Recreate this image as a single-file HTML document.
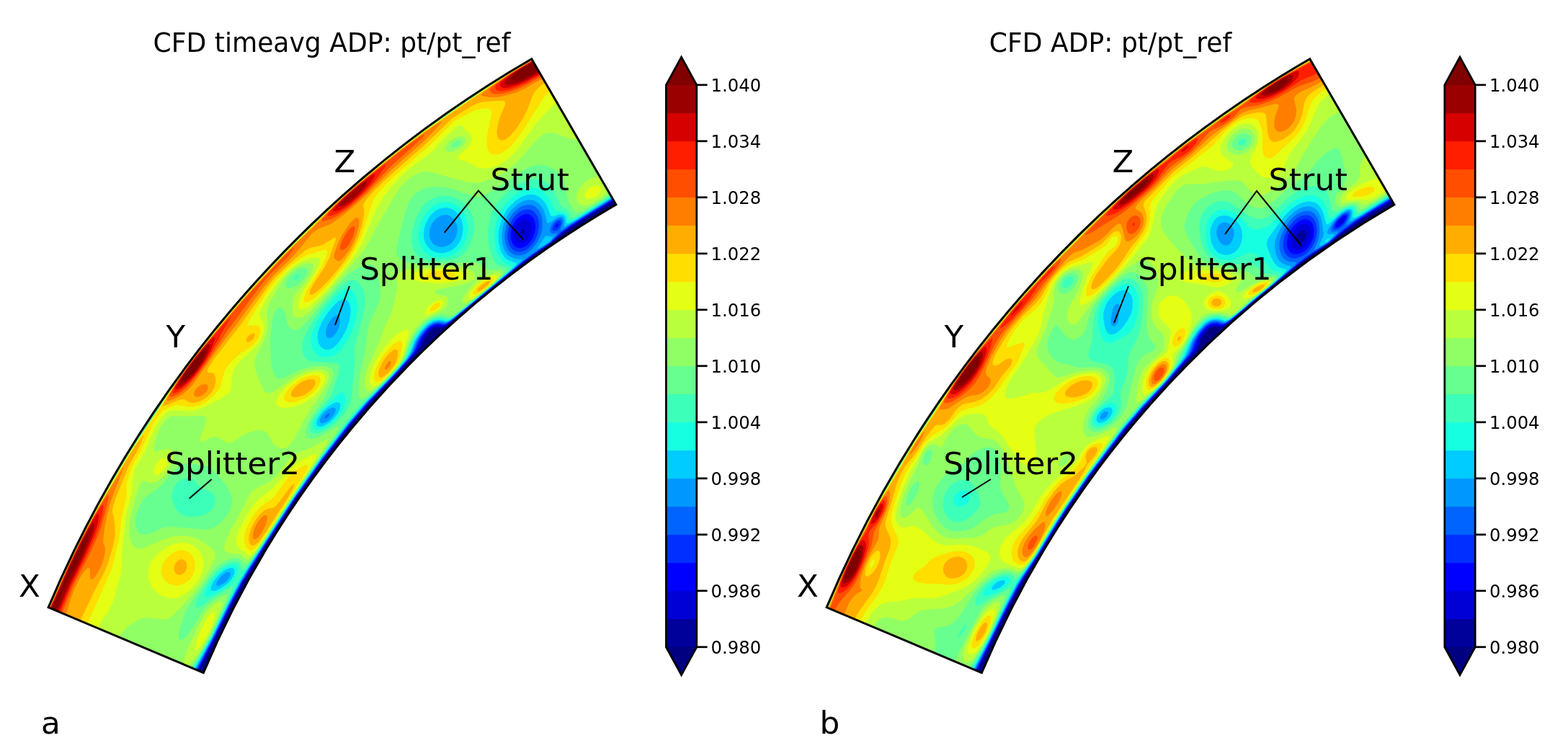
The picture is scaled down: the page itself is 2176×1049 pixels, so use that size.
<!DOCTYPE html>
<html lang="en"><head><meta charset="utf-8"><title>CFD ADP: pt/pt_ref</title>
<style>html,body{margin:0;padding:0;background:#fff;overflow:hidden}svg{display:block}text{font-family:"DejaVu Sans","Liberation Sans",sans-serif;fill:#000}.tk{font-size:24.30px}.ti{font-size:37.70px}.lb{font-size:42.50px}.cap{font-size:43.5px}.an{stroke:#000;stroke-width:2.00;fill:none}</style></head><body>
<svg width="2176" height="1049" viewBox="0 0 2176 1049">
<rect width="2176" height="1049" fill="#fff"/>
<g id="plota">
<path d="M67.12,842.80 A1595.60,1595.60 0 0 1 737.77,81.69 L854.85,283.83 A1362.00,1362.00 0 0 0 282.38,933.51 Z" fill="#000080"/>
<g transform="scale(0.1)" fill-rule="evenodd">
<path fill="#00009b" d="M671 8428l2095 883 229-458 213-446 183-346 273-452 460-715 346-485 364-472 297-350 319-332 347-374 52-69 53-118 50-72 36-37 29-19 37-10 72 3 35-13 29-18 456-383 448-365 228-179 321-223 131-110 150-113 595-367-1141-1971-460 277-451 292-456 319-430 322-418 337-422 364-394 365-396 392-382 405-354 403-353 431-326 427-323 454-296 448-291 475-265 467-186 352-177 356-168 360z"/>
<path fill="#0000d6" d="M2756 9307l232-457 214-446 175-331 273-452 460-716 375-527 409-524 233-271 377-394 274-304 48-70 52-121 58-82 39-40 45-28 42-9 85 4 66-36 405-339 581-472 190-144 252-173 143-123 137-103 594-368-1137-1964-460 277-451 292-456 319-430 322-418 337-422 364-394 365-396 392-382 405-354 403-353 431-326 427-323 454-296 448-291 475-265 467-186 352-177 356-168 360-159 365zM7241 3254l-14-15 1-33 10-17 13-11 24 3 7 20-6 28-17 20z"/>
<path fill="#0000ff" d="M2747 9303l234-457 222-460 168-317 274-451 451-702 385-542 397-511 233-272 400-418 239-268 48-73 67-151 64-83 49-48 47-25 42-7 80 7 32-10 44-26 1000-821 163-123 253-173 129-114 149-115 595-369-1134-1957-460 277-451 292-456 319-430 322-418 337-422 364-394 365-396 392-382 405-354 403-353 431-326 427-323 454-296 448-281 457-265 467-187 352-186 374-168 360-159 365zM7188 3366l-29-28-22-59-1-51 17-66 40-66 40-34 54-16 32 6 32 26 23 58 0 64-19 65-32 53-48 43-26 11-28 3z"/>
<path fill="#0030ff" d="M2739 9299l235-456 231-475 160-302 258-422 469-731 374-528 397-513 232-272 413-431 214-244 49-72 65-153 72-100 61-60 46-26 59-13 89 9 26-9 45-26 1013-831 150-113 240-162 126-118 150-114 595-369-1130-1951-460 277-451 292-456 319-430 322-418 337-422 364-394 365-396 392-368 390-355 403-354 430-327 427-312 437-297 447-292 474-266 467-196 369-177 356-177 378-159 365zM7121 3391l-26-56-8-44-1-42 12-74 31-77 44-61 62-48 62-19 31 3 24 8 34 25 23 32 15 39 7 43 0 49-10 56-34 85-30 47-36 38-43 29-33 13-41 3-25-5-30-15zM7708 3150l9-30 24-16 10 17-5 11-11 15-16 7z"/>
<path fill="#0064ff" d="M2730 9295l238-455 246-506 145-271 250-407 479-746 384-542 386-500 233-272 390-406 203-230 68-101 45-115 28-54 73-99 62-61 62-34 61-10 65 11 31-1 65-35 1027-843 137-101 226-152 150-144 124-91 596-369-1126-1944-460 277-451 292-456 319-430 322-418 337-422 364-394 365-396 392-368 390-355 403-354 430-327 427-312 437-297 447-292 474-266 467-196 369-177 356-177 378-159 365zM7091 3437l-21-34-14-39-10-52-2-61 17-97 41-95 31-47 37-40 74-50 35-13 43-5 30 4 44 18 30 28 32 51 18 60 4 46-2 57-15 70-22 59-27 52-42 57-38 37-43 29-50 19-39 4-44-7-39-22zM7673 3197l-7-19 4-27 20-41 37-37 16-8 25-3 15 14 3 22-6 28-17 32-23 27-30 18-19 2z"/>
<path fill="#0098ff" d="M2720 9291l241-454 216-445 183-348 88-146 403-634 224-342 392-558 386-500 233-272 368-380 207-235 65-95 48-123 33-65 39-59 44-54 61-60 63-37 35-10 39-3 88 14 35-11 44-27 1051-867 97-70 228-149 67-72 34-47-4-9-48 8-29-5-14-14-7-20 8-46 17-36 21-30 39-36 30-17 33-6 20 11 9 18-1 49-29 79 4 9 52-26 70-49 596-368-1121-1937-460 277-451 292-456 319-430 322-418 337-407 351-395 364-396 391-369 391-368 417-342 415-327 426-312 436-298 447-283 457-276 483-197 369-186 374-177 378-159 365zM7093 3511l-29-29-31-51-20-60-7-45-2-70 6-57 15-64 22-60 28-53 44-61 51-52 43-31 49-24 44-12 55 0 37 10 38 23 42 44 28 54 17 61 6 68-4 73-13 60-26 66-36 68-42 59-49 50-56 39-49 20-58 9-47-7zM4530 5802l-23-3 12-31 41-34 18 9-19 35z"/>
<path fill="#00ccff" d="M2710 9287l244-453 170-354 139-275 142-253 525-820 227-340 316-445 342-448 265-312 347-354 193-216 44-57 45-72 52-136 36-69 61-85 71-76 57-40 51-20 64-6 91 15 62-29 158-125 556-460 164-138 116-112 1-13-69 1-54-10-59-30-30-28-33-50-23-57-10-43-8-119 19-122 46-119 40-66 35-44 80-72 79-44 74-18 69 8 39 16 34 25 51 63 32 74 29 125 12 17 31-13 98-71 54-14 24 8 13 16 9 41-4 63 3 10 19-1 138-78 508-316-1117-1929-460 277-451 292-456 319-430 322-418 337-407 351-395 364-382 377-383 405-355 402-342 414-328 426-313 436-309 463-283 457-267 466-196 368-187 374-178 378-167 383zM5972 3324l-15-65 8-84 33-79 56-67 65-38 62-11 26 3 41 15 48 39 23 33 16 38 10 44 1 50-11 59-14 38-33 50-25 25-36 26-45 19-40 8-41-1-46-14-36-23-27-29zM4523 4649l-3-44 7-43 21-57 18-33 33-46 27-25 40-21 26 1 15 13 9 20 4 54-18 77-35 72-47 56-34 18-22 2-19-9-13-15zM4438 5852l3-35 15-33 55-68 38-32 47-25 31-6 21 6 11 18-6 43-26 46-47 52-32 26-45 24-31 6-22-5zM3002 8116l3-28 15-31 45-58 41-35 33-19 28-9 21 3 13 18-8 35-16 31-34 40-40 33-61 31-24 2zM7463 3447l66-29 98-64 32-39 10-19-1-11-74-9-20 2-14 9-94 138-10 19z"/>
<path fill="#16ffe1" d="M2700 9283l247-452 215-447 181-349 723-1119 401-573 384-502 211-247 361-365 123-134 79-95 66-105 69-176 77-118 96-100 75-45 36-12 50-6 40 4 45 13 30 0 67-36 597-487 184-156 79-73 29-34 3-15-9-6-102-36-35-23-27-30-22-33-26-56-25-106-5-71 3-63 10-74 17-67 49-116 30-50 46-60 93-86 93-55 53-17 39-7 44 1 40 9 61 31 58 58 40 69 43 115 11 17 26 7 94-30 26-1 26 7 16 13 11 17 15 86 11 5 48-16 61-33 509-316-1112-1920-460 277-451 292-456 319-430 322-418 337-407 351-395 364-382 377-369 390-357 402-342 414-328 425-332 461-88 148-275 402-242 395-237 415-197 368-188 373-177 378-176 401zM5940 3430l-33-51-15-40-10-54-1-59 6-50 19-65 25-57 32-49 37-43 43-36 50-27 38-12 43-6 51 5 49 17 37 22 44 41 34 50 23 58 12 66 1 61-13 72-21 59-29 51-35 42-57 44-50 25-64 16-64 1-55-13-53-27zM4468 4828l-27-29-20-38-14-74 3-57 9-42 42-108 82-133 54-68 55-59 42-37 50-29 34-5 23 6 30 26 19 38 12 45 3 53-4 62-14 72-27 84-31 71-46 82-41 60-36 41-42 35-35 19-42 10-43-5zM4399 5901l-7-33 15-55 37-61 45-53 68-59 61-38 39-16 29-3 20 7 13 16 5 25-9 50-32 64-55 67-67 58-64 36-34 11-28 3-21-6zM2937 8198l-13-18 0-16 16-51 35-60 57-69 55-49 54-34 56-20 23 0 19 6 14 20 2 35-6 22-31 61-45 54-69 58-65 38-57 22-24 4z"/>
<path fill="#3cffba" d="M2687 9277l252-450 389-800 236-344 507-784 401-574 382-505 200-233 353-349 127-139 76-93 57-91 73-191 36-62 51-71 95-101 43-30 49-24 56-14 44-2 97 20 19-4 41-22 94-71 476-389 156-134 70-64 31-37 6-17-5-9-110-54-31-26-24-32-28-55-20-60-23-133 4-143 30-140 49-116 40-67 47-59 51-53 56-46 59-41 65-33 53-18 50-9 53 1 41 9 44 19 34 22 59 60 43 68 58 129 16 13 26 7 69 3 42 21 20 34 16 61 20 11 34-10 76-41 466-288-1106-1910-546 331-112 80-741 500-398 299-418 337-407 351-375 345-402 396-369 390-357 402-342 414-328 425-275 381-106 177-363 546-420 699-207 386-188 373-177 378-176 401zM5893 3496l-37-48-27-56-16-65-4-75 8-73 24-88 34-76 43-67 50-56 44-36 49-28 57-19 56-6 62 6 65 22 55 34 44 41 46 65 31 78 12 66 1 82-16 95-30 78-40 65-49 53-59 42-69 29-59 12-89 4-78-14-61-27zM4377 4901l-34-52-16-43-9-49 0-61 12-65 18-58 60-124 60-96 77-106 85-101 65-66 52-41 53-25 31-3 42 15 41 44 26 58 18 96-2 86-16 102-29 110-35 92-51 101-59 93-45 56-54 48-51 27-74 16-75-3-43-14zM4379 5958l-16-12-10-19-1-47 17-53 45-77 56-68 63-62 184-165 15-10 23-5 14 15 18 41 8 51-1 32-22 83-53 91-81 90-100 75-88 40-50 6zM2871 8282l-20-3-12-21 18-70 59-107 88-112 84-74 80-44 35-12 43-4 20 4 17 11 12 19 6 25-7 55-27 64-53 69-69 61-81 55-112 58z"/>
<path fill="#66ff90" d="M2672 9271l259-448 248-527 44-105 10-41-17-11-279 169-155 109-31 16-23 2-11-22 4-37 29-84 79-137 112-160 59-68 56-50 65-43 75-32 74-11 39 13 27 34 15 55 13 18 15-7 57-60 59-77 107-155 342-532 228-340 303-435 303-414 105-135 124-142 347-332 130-136 89-104 67-102 65-178 41-82 59-88 68-78 80-67 84-38 81-12 112 22 50-21 122-93 411-332 154-135 69-71 10-20-2-11-14-15-29-16-92-29-18-12-25-31-28-54-28-80-20-85-13-91-4-81 4-84 28-142 21-63 35-74 31-51 46-59 65-66 70-59 89-63 78-46 68-30 55-15 61-6 50 6 49 15 41 21 35 26 43 43 67 100 66 148 28 29 74 48 23 33 21 57 17 13 53-17 106-57 192-114 187-122-1098-1896-431 258-1012 695-244 173-173 133-432 352-419 367-145 133-139 144-514 499-468 507-238 276-338 417-325 428-142 197-142 235-394 597-472 788-184 348-176 357-168 360-151 347zM4311 5981l-8-23-1-27 7-39 19-52 25-48 61-87 150-173 42-72 90-257 15-59 3-51-6-23-11-18-37-18-283-12-70-11-38-17-43-43-19-39-13-46-4-61 16-85 54-126 98-164 120-170 144-174 103-109 74-58 28-16 43-15 31-2 24 5 51 34 26 31 30 54 27 86 6 106-7 63-22 108-116 436-5 64 9 137-2 91-33 272-11 139-13 70-35 84-57 87-69 77-95 78-109 68-85 34-34 5-41-7-17-10zM5770 3522l-31-52-25-84-3-103 12-89 32-119 41-97 51-87 62-73 60-46 69-34 81-19 70-1 78 13 67 25 74 43 62 54 49 63 36 73 21 85 4 98-14 93-33 103-46 86-57 70-74 51-70 26-101 18-104 6-115-8-74-15-42-17-37-21zM2572 7159l-38-13-35-20-31-27-26-33-24-40-18-48-11-59-1-52 6-40 19-55 40-64 28-28 48-30 31-12 51-7 42 9 35 19 114 119 36 18 80 24 23 15 34 44 10 26 4 46-12 56-27 48-38 40-51 33-65 25-84 14-76 2zM4085 3887l-15-13 19-37 47-32 25 4-3 31-16 20-16 13z"/>
<path fill="#90ff66" d="M2651 9262l165-260 104-184 200-436 26-65 10-64-19-6-87 37-91 55-74 60-50 53-43 56-114 197-49 74-42 50-37 32-29 17-23 2-15-16-5-38 7-62 23-99 64-165 84-156 265-380 68-83 69-62 92-49 71-20 53-5 42 6 18 8 17 12 40 50 21 5 38-27 30-33 135-186 503-773 528-767 56-100-10-20-39 16-165 96-109 48-51 9-24-2-38-16-13-15-14-48 1-34 27-93 59-111 145-201 46-77 96-221 14-59 0-50-19-40-15-13-37-18-95-13-94 4-94 15-104 31-246 121-32 7-24-1-35-21-34-54-26-94-11-81-14-232 6-99 34-273 18-62 31-50 34-21 26 0 33 23 21 37 32 144 27 60 43 41 25 8 22 0 26-8 50-31 69-64 412-490 103-111 83-76 109-74 106-46 71-11 26 3 39 18 21 35 54 224 11 73-2 84-20 95-114 244-23 69-18 75-37 299-69 298-18 121-2 93 8 82 12 46 17 11 41-16 31-20 141-112 159-151 141-154 54-70 41-71 63-181 57-114 71-101 84-88 42-31 48-25 91-34 83-6 94 22 45-20 507-395 129-115 41-45 14-23-2-24-24-20-52-7-126 7-22-8-102-72-68-23-89-6-375 25-307 0-83-8-74-14-65-23-54-32-26-31-8-18-9-47 8-87 37-164 63-245 48-150 48-93 65-72 64-41 76-27 85-15 96-1 104 11 104 24 266 97 51 7 43-4 55-18 82-44 233-146 212-145 78-47 88-34 81-8 71 9 91 32 58 34 59 57 32 51 31 75 54 250 72 120 26 31 32 4 102-41 175-99 171-116-1087-1877-308 183-692 468-504 353-366 274-423 335-433 378-776 769-472 512-483 561-242 310-226 303-41 57-203 330-415 631-546 925-153 300-148 304-141 308-135 310zM1934 7394l-27-30-18-38-8-40-1-52 23-119 27-73 35-69 33-48 41-43 140-95 47-39 68-71 134-163 51-48 37-21 55-12 69 3 219 29 58 21 60 55 96 109 77 103 44 79 17 47 9 67-7 60-23 69-45 78-55 71-67 64-61 37-58 18-71 5-440-38-68-1-78 18-125 60-73 25-56 4-40-11zM3969 3982l-8-21 2-31 14-39 32-50 55-55 67-44 59-21 31-4 24 4 17 12 8 21-1 13-5 23-17 37-33 49-54 55-66 44-56 21-31 3-23-5zM6277 2050l-15-14 4-27 34-37 54-24 30 1 16 14-4 27-34 36-50 24z"/>
<path fill="#baff3c" d="M1693 8775l51-56 64-52 87-55 54-24 58-14 60-4 210 28 46-9 61-37 127-128 158-184 104-134 70-103 73-122 48-94 22-62 1-42-9-24-27-34-61-54-117-78-74-32-60-16-64-9-68-2-72 7-74 14-121 40-205 96-79 23-44-2-37-16-44-46-21-46-14-59-5-75 4-92 15-105 22-98 43-149 57-173 24-53 26-30 20-1 53 28 42 9 51-9 57-29 60-53 60-76 48-83 28-72 11-61-5-42-11-20-32-25-24-6-44 1-117 35-25 3-16-13-5-30 4-43 32-124 41-99 51-84 37-46 30-28 57-32 190 7 227-11 21 4 21 12 10 14 7 45-20 79-61 142-5 25 2 19 3 9 16 12 26-2 104-55 61-11 61 18 101 66 21 4 26-2 39-19 116-76 91-45 96-30 80-8 43 10 34 21 26 32 66 113 26 32 31 26 37 16 47 5 43-12 45-33 33-41 37-61 126-238 98-170 147-202 58-91 44-102 7-66-8-27-11-17-15-14-38-17-71-10-86 8-104 29-109 51-98 62-170 125-53 34-41 19-30 6-24-2-18-9-28-29-22-38-55-129-38-107-15-81 3-63 21-63 99-191 42-115 16-92 1-62-11-140 13-75 33-74 162-275 46-64 54-57 60-51 52-34 54-26 77-23 58-1 20 8 14 15 4 23-5 34-34 75-76 114-136 162-19 36-11 41-11 135 7 52 9 21 27 29 20 8 44-1 41-14 80-55 120-119 599-684 56-79 51-84 140-272 114-190 127-226 43-61 60-71 57-53 66-50 63-35 58-22 62-10 53 2 61 11 236 72 239 61 100 11 85-10 94-28 121-53 98-54 76-52 85-73 80-80 231-260 43-37 47-31 54-18 74 0 53 15 165 65 88 16 40-3-646-1117-171 103-250 162-577 388-489 342-397 298-679 552-826 804-436 463-290 327-469 552-319 423-264 420-415 631-174 289-308 533-196 352-103 210-102 214-241 548 984 414zM6202 2105l-17-12-9-19 4-36 33-54 43-40 50-30 59-18 57 2 21 9 14 15 6 20-11 44-23 33-44 39-50 29-57 19-50 5zM5142 5425l92-57 121-108 107-112 87-106 52-89 53-169 43-104 63-109 65-83 64-59 242-120 53-44 25-50 9-42-1-33-8-19-14-14-21-8-87-3-25-6-17-11-11-17 0-20 12-12 44-17 290-52 92-25 68-27 42-31 14-37-8-39-26-31-34-23-41-18-96-25-113-10-170-1-202 13-240 29-79 21-33 17-29 23-20 32-4 22 0 27 15 86-4 59-64 273-28 73-84 169-66 195-145 311-50 145-14 104 2 41 10 48 21 36 18 10zM3176 7674l128 17 40 12 81 59 24-2 18-10 60-64 119-167 305-474 436-653 121-192 29-55 9-43-25-1-39 18-174 95-160 62-71 34-29 22-48 52-123 170-71 79-53 42-42 26-162 77-45 34-24 26-38 60-95 192-153 279-44 97-29 85-10 56 12 38 15 14zM2635 9218l89-107 67-102 116-197 94-207 73-189 5-58-17-10-24 3-58 27-77 65-64 84-60 110-167 345-46 131-16 107 55 23zM8049 2835l47 18 44-4 95-38 116-73 93-81-124-213-91 19-79 38-56 43-60 72-26 57-7 27-2 48 21 58zM6431 4207l30 0 75-37 81-55 137-106 113-97 52-55 24-44-6-20-32-13-63 9-118 46-95 47-28 20-91 107-72 101-21 43-5 30 3 11z"/>
<path fill="#e4ff13" d="M1423 8593l93-137 51-102 66-240 54-164 7-309 47-417 22-121 61-248 23-220 26-122 124-223 162-363 40-69 45-65 68-73 70-24 58-5 113 12 73 0 87-14 93-28 212-107 90-52 64-47 22-31 13-38 16-189 16-52 18-35 32-48 50-58 160-143 53-55 47-61 37-69 25-79 3-66-19-70-44-71-3-27 10-41 44-93 82-137 89-130 85-109 82-84 74-65 120-74 80-31 95-21 57 0 17 11 7 22-4 32-40 97-46 79-128 197-47 88-32 101 2 58 10 18 17 11 26 1 32-8 60-32 69-54 110-104 127-140 229-280 104-139 62-100 56-109 127-317 63-133 84-141 82-114 105-118 127-121 106-87 189-138 75-62 188-206 146-132 16-12 20-5 30-2 21 9 28 54 66 52 23 32 6 21-7 53-24 52-51 61-100 85-18 37 13 16 22 9 105 23 112 67 44 18 55 10 47 0 100-19 88-37 79-50 86-73 115-131 168-239 107-136 135-144 104-85-347-600-222 133-200 130-577 388-488 341-428 323-418 337-213 179-190 176-568 555-292 298-269 293-224 252-619 736-125 171-343 536-363 546-186 305-280 480-183 331-164 318-118 252-233 527 684 289 28-71zM3535 7652l47-59 84-122 589-903 106-175 21-45 7-43-20-6-70 27-133 70-90 64-76 74-211 235-55 48-119 89-54 48-57 68-50 72-87 153-53 112-31 104-3 71 9 34 22 31 128 99 20 6 28-9zM2391 8304l46-3 52-14 60-31 73-58 59-60 56-71 46-76 30-73 13-65 0-43-12-62-23-56-32-51-44-46-50-33-56-23-74-9-86 10-77 26-78 42-84 60-70 68-44 62-29 68-12 78 7 79 26 81 37 62 44 47 66 46 74 31zM3977 5661l105-18 100-35 85-45 89-66 74-78 59-90 13-35 8-41-7-40-12-18-33-22-45-10-61 2-87 20-76 32-69 37-78 54-71 60-64 66-45 58-25 51-6 41 7 28 28 29 39 15zM5240 5340l70-53 110-107 90-104 47-73 33-81 77-274 6-61-13-16-29 1-61 27-59 40-66 57-116 132-60 88-55 92-40 82-26 71-14 65-2 61 12 46 12 17 17 11 28-2zM5845 3909l103 15 105 7 93-1 107-11 78-16 69-26 41-33 6-30-9-19-31-25-41-18-73-18-83-8-91-2-184 17-80 16-75 25-33 17-24 27 3 28 13 15 37 21zM2759 8990l42-53 82-129 39-84 61-172 2-49-16-14-27 10-54 56-53 90-57 126-58 151-15 84 14 18zM6529 4137l42-10 56-31 163-125 70-67 27-34 9-20-3-23-20-10-16 1-65 19-92 50-69 52-72 74-41 58-13 34 4 23zM8142 2754l29 6 48-7 32-14 44-29 25-25 20-33 7-20-2-22-10-18-19-12-21-5-40 1-51 16-44 29-35 42-14 40 3 21 10 17zM5936 4365l82-26 75-47 35-38 18-32 7-25-3-24-16-12-29-2-31 8-64 32-55 44-47 53-15 35 0 20 15 13zM2145 6587l18 9 28-4 37-22 40-43 29-50 17-50 1-38-10-22-18-10-32 3-39 21-41 43-29 50-12 38-2 44z"/>
<path fill="#ffde00" d="M1259 8551l296-666 96-403 16-100 20-210 63-254 7-66-3-112 7-42 63-214 127-222 167-363 39-69 45-65 67-74 107-48 88-22 153 25 50-1 56-10 54-18 77-40 51-34 60-52 50-58 31-49 23-55 43-161 26-53 33-47 64-73 56-54 47-37 120-76 47-36 52-57 32-48 15-38 10-42-3-45-9-20-30-26-22-5-87 9-24-3 0-31 37-73 68-109 145-224 93-130 89-104 97-98 89-78 113-82 53-30 58-25 216-63 29 0 14 15 0 28-26 81-57 115-196 318-39 94-6 35 5 25 15 13 28-1 48-22 72-52 98-90 117-125 133-162 115-154 84-133 55-109 48-118 128-409 28-56 46-67 104-119 141-137 145-131 314-268 247-246 122-114 208-115 99-44 102-20 68 4 22 9 13 16 4 44-55 254-14 105 3 95 18 60 24 32 17 13 22 9 48 3 40-8 52-23 90-68 79-86 72-97 136-210 169-275 52-62 59-53-253-436-205 122-217 140-576 389-499 347-433 329-403 324-212 180-204 189-565 551-294 303-269 292-237 268-585 703-96 126-113 164-138 213-178 293-313 459-176 288-291 497-192 348-154 301-134 288-217 491 534 225zM3530 7622l67-74 78-112 510-791 74-130 13-52-17-11-31 8-79 41-52 36-53 47-80 92-150 212-40 36-109 74-56 47-59 66-60 86-49 93-32 83-16 72 2 82 11 36 23 40 30 28 18 9 23 0zM2482 8122l79-24 65-48 24-28 28-46 19-51 7-36 2-40-7-58-28-74-26-35-32-25-56-22-45-3-51 10-55 26-42 29-49 48-33 45-25 49-15 54-3 43 14 62 23 43 23 25 40 29 36 16 61 13zM4062 5582l65-13 81-31 68-38 73-55 60-67 35-64 7-42-5-25-11-17-36-20-26-4-51 2-66 17-108 52-110 85-46 47-32 45-15 34-6 42 15 31 17 11 42 11zM5258 5298l67-43 63-59 80-89 50-71 33-75 25-111 9-65-2-27-9-19-20-8-39 11-46 28-40 34-94 103-78 118-46 100-15 57-5 41 7 51 11 18 18 10zM5978 3871l107 14 131-9 73-22 28-22 5-18-11-17-38-20-74-16-89-4-103 11-75 24-28 22-3 18 14 15zM6585 4090l20-4 42-20 120-87 64-65 16-25 2-27-23-7-51 16-61 33-55 41-50 48-42 59-2 28zM5964 4313l20 9 34-10 45-27 37-41 8-34-17-12-11 2-32 10-33 22-44 48z"/>
<path fill="#ffae00" d="M2331 5614l126-53 64-21 24 0 20 7 72 37 45 5 46-7 85-34 52-35 44-39 37-45 28-51 16-60 3-51-9-55-9-20-15-14-20-6-49-3-16-11 12-49 93-142 349-448 413-578 78-90 97-97 100-95 210-180 76-42 101-16 72-24 176-104 8 21-7 34-83 229-64 127-139 208-41 71-23 52-6 36 9 19 30-2 44-26 114-101 108-117 136-161 108-151 70-120 59-135 47-148 27-145 2-55-10-71 3-25 43-68 102-115 173-169 545-483 372-360 269-167 90-42 63-13 215-19 72 2 20 11 7 20-6 27-68 163-28 89-18 108 6 68 16 38 14 14 28 10 22-1 36-13 61-46 90-105 99-157 50-101 70-190 31-58 56-61 94-70-182-314-222 133-200 129-885 605-259 183-254 191-497 397-213 179-176 161-638 625-181 184-404 438-338 390-418 506-211 289-151 235-58 100-20 47 4 11zM1114 8615l164-350 161-307 54-124 76-257 27-138-2-126-16-139-15-57-2-38 10-60 33-101 183-456 127-224 50-111 32-86-14 3-73 98-119 183-376 631-164 289-132 251-123 249-309 689zM3560 7547l33-31 57-75 316-490 91-153 35-84-36 15-31 34-154 207-46 53-30 22-81 14-48 25-67 61-52 70-43 75-27 66-19 69-5 58 11 54 12 19 17 11 33 0zM5329 5221l58-49 46-51 34-45 31-59 14-45 9-67-1-27-7-21-13-7-23 1-26 12-60 50-57 71-52 88-29 84 1 58 10 18 21 7zM4123 5511l61-16 45-20 85-60 36-40 24-42 4-36-10-20-16-11-22-6-57 5-78 31-55 35-34 29-48 55-17 33-3 21 2 17 13 15 19 8zM2519 7974l22-13 24-24 18-31 10-43-1-34-10-30-13-18-35-19-23-1-27 9-33 26-21 30-16 53 8 52 26 36 38 14zM6643 4042l52-25 54-42 36-37 12-22 1-13-22-3-33 12-71 50-48 56-3 16 6 8zM3450 4747l38-19 28-27 20-51-9-20-23-3-30 14-42 40-10 17-8 36 15 14z"/>
<path fill="#ff7e00" d="M2355 5558l83-32 99-57 62-52 70-70 373-531 250-328 397-543 103-119 295-292 239-291 46-38 48-30 143-56 71-39 143-106 121-99 175-158 363-363 458-407 158-161 89-101-25 5-131 83-274 195-267 207-495 398-295 266-333 342-246 230-141 140-340 362-252 280-207 241-431 520-189 256-166 259-38 82 3 12zM916 8531l71-239 52-134 76-151 66-92 38-33 21 1 9 28 2 90 5 35 20 6 39-37 33-48 38-68 32-70 25-79 15-75 2-49-6-32-20-50-3-37 20-170 40-202 42-149 51-152 140-344-29 29-247 400-139 238-124 227-213 427-282 635zM6682 1327l122 24 65-1 86-11 121-28 77-24 109-47 272-153-146-253-323 196-284 197-79 64-26 28zM4714 3622l73-69 56-80 40-69 42-92 31-84 25-103 5-58-3-24-10-18-23-5-19 8-45 37-39 44-89 133-72 149-47 137-5 32 4 24 49 36zM3578 7463l57-72 52-109 24-87 0-21-10-21-21-5-34 17-20 17-54 69-40 77-24 87 1 47 12 19 21 3zM2740 5508l28-5 36-15 57-49 20-34 8-33-6-25-15-13-26-5-49 12-37 21-42 41-18 36-4 33 9 22 17 11zM5359 5131l32-26 24-33 13-43-6-22-25 8-13 12-39 58-5 37z"/>
<path fill="#ff4e00" d="M861 8508l164-400 210-400 123-268 52-150 62-228 31-138 5-50-5-12-23 21-108 164-117 206-122 228-174 357-266 599zM2392 5504l68-27 64-41 89-82 79-88 164-221 304-462 469-639 115-136 240-236 63-76 40-64-27 13-147 141-499 538-235 269-410 486-194 252-165 247-40 71-17 41 3 13zM4490 3067l98-24 100-49 132-90 106-87 187-175 310-335 349-313 90-89 34-42-24 6-41 27-242 174-461 362-207 170-192 172-170 167-89 103-6 20zM6839 1297l38 7 81-4 78-16 78-24 164-69 240-133-128-221-306 186-228 160-41 35-18 23-2 14 15 26zM4778 3460l30-24 36-46 53-106 27-106-2-26-13-15-42 23-39 43-44 67-36 71-28 81 0 28 11 17 27 1z"/>
<path fill="#ff1e00" d="M837 8498l152-363 220-440 127-288 46-131 38-137 15-92-2-37-8-7-31 32-96 152-197 367-155 322-249 563zM2414 5455l29-6 40-18 82-63 98-99 100-122 90-129 73-117 170-319 119-197-75 75-221 248-160 188-122 157-127 178-95 151-23 53 2 14zM6902 1255l39 8 40-1 79-15 77-24 163-71 205-115-113-196-306 186-130 90-59 49-20 24-6 28 7 19zM4582 2995l37-7 47-18 89-49 112-82 119-102 99-97 103-114 83-109 100-147-41 21-214 158-177 143-164 145-133 127-89 103-6 19 8 7z"/>
<path fill="#d60000" d="M818 8490l154-363 208-424 103-235 43-111 30-99 15-78-3-51-10-3-23 23-62 96-169 311-138 286-265 598zM6980 1220l26 2 57-6 136-43 125-58 171-96-101-174-258 155-161 117-25 28-8 16-2 25 8 18zM2450 5405l31-9 31-17 81-63 96-101 85-109 87-131 69-127 45-122 5-39-5-9-23 12-112 118-127 153-120 158-141 215-22 48 0 17zM4632 2933l57-10 83-42 97-69 104-90 93-93 75-90 50-81 9-34-6-8-30 12-113 81-138 113-134 118-102 99-51 61-9 22z"/>
<path fill="#9b0000" d="M798 8482l154-364 184-371 88-198 68-189 14-70-6-33-12 1-43 57-65 110-106 204-103 215-264 599zM7049 1177l30 0 54-10 85-28 112-52 153-88-86-149-208 125-126 89-42 46-10 32 6 20zM2504 5347l63-37 69-61 66-74 71-94 59-91 49-97 26-81-2-30-8-6-22 12-109 116-111 138-93 128-63 98-26 54-2 20 7 7zM4702 2863l27 0 57-25 67-44 77-62 70-69 54-63 34-55 4-30-11-4-38 20-200 162-130 127-18 30z"/>
<path fill="#800000" d="M770 8469l47-108 66-187 31-73 147-259 85-178 60-157 12-49 3-25-5-13-15 7-41 60-105 199-110 247-73 193-139 285-15 37zM7120 1119l58-2 85-28 88-44 119-69-68-117-172 102-83 62-26 28-20 35 2 22zM2523 5289l28-4 53-35 58-55 63-76 56-81 47-89 19-61-3-28-10-3-25 15-21 21-54 59-86 109-83 118-38 64-12 37z"/>
</g>
<path d="M67.12,842.80 A1595.60,1595.60 0 0 1 737.77,81.69 L854.85,283.83 A1362.00,1362.00 0 0 0 282.38,933.51 Z" fill="none" stroke="#000" stroke-width="3.00" stroke-linejoin="miter"/>
</g>
<g id="cbara">
<rect x="924.40" y="858.50" width="42.40" height="39.60" fill="#00009b"/>
<rect x="924.40" y="819.50" width="42.40" height="39.60" fill="#0000d6"/>
<rect x="924.40" y="780.51" width="42.40" height="39.60" fill="#0000ff"/>
<rect x="924.40" y="741.51" width="42.40" height="39.60" fill="#0030ff"/>
<rect x="924.40" y="702.51" width="42.40" height="39.60" fill="#0064ff"/>
<rect x="924.40" y="663.52" width="42.40" height="39.60" fill="#0098ff"/>
<rect x="924.40" y="624.52" width="42.40" height="39.60" fill="#00ccff"/>
<rect x="924.40" y="585.52" width="42.40" height="39.60" fill="#16ffe1"/>
<rect x="924.40" y="546.52" width="42.40" height="39.60" fill="#3cffba"/>
<rect x="924.40" y="507.52" width="42.40" height="39.60" fill="#66ff90"/>
<rect x="924.40" y="468.53" width="42.40" height="39.60" fill="#90ff66"/>
<rect x="924.40" y="429.53" width="42.40" height="39.60" fill="#baff3c"/>
<rect x="924.40" y="390.53" width="42.40" height="39.60" fill="#e4ff13"/>
<rect x="924.40" y="351.54" width="42.40" height="39.60" fill="#ffde00"/>
<rect x="924.40" y="312.54" width="42.40" height="39.60" fill="#ffae00"/>
<rect x="924.40" y="273.54" width="42.40" height="39.60" fill="#ff7e00"/>
<rect x="924.40" y="234.54" width="42.40" height="39.60" fill="#ff4e00"/>
<rect x="924.40" y="195.55" width="42.40" height="39.60" fill="#ff1e00"/>
<rect x="924.40" y="156.55" width="42.40" height="39.60" fill="#d60000"/>
<rect x="924.40" y="117.55" width="42.40" height="39.60" fill="#9b0000"/>
<path d="M924.40,118.15 L945.60,79.05 L966.80,118.15 Z" fill="#800000"/>
<path d="M924.40,897.50 L945.60,936.60 L966.80,897.50 Z" fill="#000080"/>
<path d="M924.40,117.85 L945.60,79.05 L966.80,117.85 L966.80,897.80 L945.60,936.60 L924.40,897.80 Z" fill="none" stroke="#000" stroke-width="2.70" stroke-linejoin="miter"/>
<line x1="966.80" y1="897.80" x2="981.60" y2="897.80" stroke="#000" stroke-width="2.70"/>
<text class="tk" x="986.60" y="906.95">0.980</text>
<line x1="966.80" y1="819.80" x2="981.60" y2="819.80" stroke="#000" stroke-width="2.70"/>
<text class="tk" x="986.60" y="828.95">0.986</text>
<line x1="966.80" y1="741.81" x2="981.60" y2="741.81" stroke="#000" stroke-width="2.70"/>
<text class="tk" x="986.60" y="750.96">0.992</text>
<line x1="966.80" y1="663.82" x2="981.60" y2="663.82" stroke="#000" stroke-width="2.70"/>
<text class="tk" x="986.60" y="672.97">0.998</text>
<line x1="966.80" y1="585.82" x2="981.60" y2="585.82" stroke="#000" stroke-width="2.70"/>
<text class="tk" x="986.60" y="594.97">1.004</text>
<line x1="966.80" y1="507.82" x2="981.60" y2="507.82" stroke="#000" stroke-width="2.70"/>
<text class="tk" x="986.60" y="516.98">1.010</text>
<line x1="966.80" y1="429.83" x2="981.60" y2="429.83" stroke="#000" stroke-width="2.70"/>
<text class="tk" x="986.60" y="438.98">1.016</text>
<line x1="966.80" y1="351.84" x2="981.60" y2="351.84" stroke="#000" stroke-width="2.70"/>
<text class="tk" x="986.60" y="360.99">1.022</text>
<line x1="966.80" y1="273.84" x2="981.60" y2="273.84" stroke="#000" stroke-width="2.70"/>
<text class="tk" x="986.60" y="282.99">1.028</text>
<line x1="966.80" y1="195.85" x2="981.60" y2="195.85" stroke="#000" stroke-width="2.70"/>
<text class="tk" x="986.60" y="205.00">1.034</text>
<line x1="966.80" y1="117.85" x2="981.60" y2="117.85" stroke="#000" stroke-width="2.70"/>
<text class="tk" x="986.60" y="127.00">1.040</text>
</g>
<g id="labelsa">
<text class="ti" transform="translate(460.50,72.20) scale(0.958,1)" text-anchor="middle">CFD timeavg ADP: pt/pt_ref</text>
<text class="lb" transform="translate(57.00,1018.00) scale(1.030,1)" text-anchor="start">a</text>
<text class="cap" x="26.00" y="827.90" text-anchor="start">X</text>
<text class="cap" x="230.40" y="481.70" text-anchor="start">Y</text>
<text class="cap" x="463.60" y="239.30" text-anchor="start">Z</text>
<text class="lb" transform="translate(680.60,263.50) scale(1.030,1)" text-anchor="start" letter-spacing="0.35">Strut</text>
<text class="lb" transform="translate(499.30,388.30) scale(1.030,1)" text-anchor="start" letter-spacing="-0.20">Splitter1</text>
<text class="lb" transform="translate(229.20,658.10) scale(1.030,1)" text-anchor="start">Splitter2</text>
<polyline class="an" points="616.7,322.9 663.9,264.5 726.1,332.3"/>
<line class="an" x1="485.00" y1="397.00" x2="465.00" y2="451.00"/>
<line class="an" x1="293.70" y1="664.90" x2="262.60" y2="691.80"/>
</g>
<g id="plotb">
<path d="M1147.12,842.80 A1595.60,1595.60 0 0 1 1817.77,81.69 L1934.85,283.83 A1362.00,1362.00 0 0 0 1362.38,933.51 Z" fill="#000080"/>
<g transform="scale(0.1)" fill-rule="evenodd">
<path fill="#00009b" d="M13569 9312l377-783 188-363 122-205 206-313 252-424 156-244 252-363 526-691 256-296 245-260 224-256 246-261 36-60 37-110 49-72 36-37 47-26 42-3 61 12 34-11 44-27 119-96 321-279 486-400 175-136 139-98 199-130 202-159 180-128 231-146 267-152-1146-1978-460 277-467 303-457 320-429 323-418 337-421 364-408 379-381 379-381 406-354 404-340 415-338 443-311 438-307 464-290 476-264 467-177 335-177 356-168 360-159 365z"/>
<path fill="#0000d6" d="M13562 9309l378-783 188-363 95-162 214-329 271-452 148-229 271-391 505-664 244-285 280-298 201-231 219-239 38-59 32-99 20-44 62-84 49-48 49-23 44-3 51 12 30 0 24-8 44-27 115-92 309-267 486-400 174-136 139-99 201-129 199-162 180-130 230-146 266-154-1140-1968-460 277-467 303-457 320-429 323-418 337-421 364-408 379-381 379-381 406-354 404-340 415-338 443-311 438-307 464-290 476-264 467-177 335-177 356-168 360-159 365zM18010 3375l-15-14-11-41 3-27 13-36 22-30 27-22 35-10 26 10 13 16 8 43-5 28-14 32-22 29-28 20-26 8z"/>
<path fill="#0000ff" d="M13554 9306l380-783 188-363 95-162 205-315 272-451 148-230 281-406 494-651 232-272 314-336 383-436 38-60 51-142 27-47 43-55 61-60 47-25 54-9 85 18 42-14 44-27 133-107 257-223 672-550 126-88 215-138 197-165 179-131 230-147 265-156-1134-1958-460 277-451 292-456 319-430 322-418 337-422 364-394 365-396 392-382 405-354 403-353 431-326 427-323 454-296 448-291 475-265 467-186 352-177 356-168 360-159 365zM17947 3446l-23-33-12-66 7-55 31-74 33-46 53-45 52-19 47 6 18 12 25 31 15 63-10 80-25 59-44 56-57 39-36 12-34 0zM18564 3112l9-29 36-42 31-16 16 3-6 28-40 48-15 10-18 3z"/>
<path fill="#0030ff" d="M13546 9302l397-813 182-348 87-146 223-343 264-438 139-214 291-420 483-639 221-259 337-362 347-400 43-69 33-102 22-49 36-59 43-55 62-60 63-33 65-6 57 17 27 2 37-13 44-27 107-85 244-212 577-478 134-105 126-88 202-127 194-169 180-131 244-156 250-149-1129-1949-460 277-451 292-456 319-430 322-418 337-422 364-394 365-396 392-382 405-354 403-353 431-326 427-323 454-296 448-281 457-265 467-187 352-186 374-168 360-159 365zM17905 3502l-34-50-11-41-3-48 16-86 37-84 56-74 69-55 33-14 38-8 25 1 45 18 29 29 18 36 11 41 3 46-13 90-40 92-32 44-37 36-43 29-32 14-36 10-35 1-34-9zM18538 3154l-8-19 9-30 36-53 52-47 32-14 20-1 8 18-7 28-36 59-51 46-33 13z"/>
<path fill="#0064ff" d="M13537 9299l407-828 174-333 88-146 207-314 264-438 147-229 291-420 482-640 266-311 326-349 308-364 40-67 28-86 29-69 37-61 54-68 61-60 62-35 38-9 41-1 68 20 28 1 33-12 44-28 133-106 192-168 251-204 481-408 319-198 191-176 181-128 259-166 235-140-1124-1941-460 277-451 292-456 319-430 322-418 337-422 364-394 365-396 392-368 390-355 403-354 430-327 427-312 437-297 447-292 474-266 467-196 369-177 356-177 378-159 365zM17854 3540l-23-33-15-39-8-44-1-49 7-55 17-58 52-107 69-86 40-35 46-28 33-14 41-8 40 2 41 15 32 27 30 51 13 40 8 68-4 64-14 69-23 58-28 50-32 43-49 48-58 38-49 19-41 8-47-2-45-16zM18504 3176l-3-22 10-30 23-41 46-55 39-35 46-25 19-5 22 9 4 21-16 52-29 49-35 41-42 31-31 14-32 6z"/>
<path fill="#0098ff" d="M11471 8428l2057 867 232-458 193-400 167-317 71-117 208-313 264-438 148-229 300-435 481-641 266-311 328-348 263-315 57-88 44-122 24-53 68-104 81-89 42-32 32-16 37-11 43-4 38 6 53 19 24 0 34-12 53-34 594-494 216-187 73-68 29-35-1-11-92-6-63-28-29-28-23-33-26-81-2-95 22-94 49-107 75-107 51-51 42-33 47-26 52-18 39-6 54 8 41 20 30 29 21 33 22 58 11 65 2 81-16 99-21 58-40 83 5 8 35-12 157-92 73-67 57-63 13-20-6-8-52 10-33-1-15-15 0-24 15-41 41-63 47-54 53-45 30-18 33-12 27 0 13 15 3 23-6 27-46 113 20-3 597-368-1119-1932-460 277-451 292-456 319-430 322-418 337-407 351-395 364-396 391-369 391-368 417-342 415-327 426-312 436-298 447-283 457-276 483-197 369-186 374-177 378z"/>
<path fill="#00ccff" d="M13519 9291l227-442 223-461 143-273 72-116 202-298 273-452 138-215 310-449 480-642 266-312 329-346 249-306 47-75 77-189 77-119 95-101 43-29 34-15 38-10 51-2 103 28 25-6 46-26 121-94 193-168 290-237 148-131 70-66 25-32 1-13-10-5-65-14-40-19-46-41-22-33-25-57-17-87 5-93 35-100 66-120 78-105 92-85 60-38 51-21 57-11 44 1 49 15 36 24 39 46 25 55 16 62 27 172-5 31-54 122-3 15 7 7 33-11 82-46 38-37 45-54 3-14-11-5-73 1-16-13 1-25 35-65 54-74 60-66 68-54 63-31 21-3 24 8 9 18 2 22-21 97 7 7 11-2 106-57 435-271-1113-1923-460 277-451 292-456 319-430 322-418 337-407 351-395 364-396 391-369 391-368 417-342 415-327 426-312 436-298 447-283 457-276 483-197 369-186 374-177 378-159 365zM16924 3355l-29-54-13-63 4-53 14-40 23-30 43-26 36-3 47 14 47 39 25 57 4 25-4 51-23 71-17 26-26 25-38 14-48-12zM15424 4511l-8-21-2-50 28-151 27-52 31-22 16-2 15 13 6 23-9 70-3 85-10 56-16 36-24 27-19 8-19-5zM15289 5820l-19-7-7-23 24-48 45-31 24-4 18 10 4 26-18 36-38 33z"/>
<path fill="#16ffe1" d="M13508 9286l223-425 200-416 172-335 45-73 224-324 283-467 129-201 319-463 479-644 266-311 319-333 208-257 73-113 61-149 35-71 78-119 94-101 76-46 57-14 45-2 40 7 56 22 22 2 60-27 122-95 184-161 253-204 128-114 63-62 26-32 2-15-8-6-60-17-41-18-32-26-26-31-40-71-39-95-19-61-5-47 11-46 30-50 164-226 58-72 91-87 59-41 48-25 90-27 44-2 45 7 34 13 30 18 46 51 35 73 36 144 17 13 39-21 141-133 43-30 46-24 23-7 33-2 23 14 7 19-4 73 5 21 28-2 62-30 422-262-1108-1913-460 277-451 292-456 319-430 322-418 337-407 351-395 364-382 377-383 405-355 402-342 414-328 426-313 436-309 463-243 391-307 532-196 368-187 374-178 378-167 383zM16849 3443l-20-36-20-56-14-97 2-54 10-53 34-75 24-30 28-24 33-18 40-10 30-1 45 7 68 31 49 38 38 47 27 54 12 42 5 71-6 50-11 44-24 56-33 44-42 34-50 23-59 9-54-8-41-17-33-25zM15362 4607l-29-65-20-120 2-87 27-92 27-51 34-45 39-41 55-45 38-21 41-12 38 0 22 7 33 24 25 31 17 40 9 47-4 95-15 62-22 55-37 66-53 76-49 54-43 34-35 17-49 5-21-7zM15220 5842l-5-25 11-45 23-38 36-39 47-30 39-13 31 0 19 8 14 23 3 19-4 25-22 49-34 40-44 32-57 20-25-1-19-9zM13769 8180l-8-16 5-17 49-55 35-23 56-20 22 1 17 10 0 24-8 15-38 39-27 18-58 24-25 4zM18396 3359l39-24 17-27-16-1-29 18-19 27z"/>
<path fill="#3cffba" d="M13495 9281l245-454 167-356 182-368 269-378 283-467 138-215 319-465 488-658 256-299 310-318 171-214 86-130 108-234 44-79 50-72 94-102 43-31 49-22 58-14 46-1 49 10 63 24 42-10 33-21 121-94 166-147 253-202 79-71 57-58 23-31 3-14-7-8-87-21-42-17-31-27-72-96-41-44-52-36-64-26-41-6-41 4-167 76-57 15-42 5-51-2-51-9-44-16-52-34-40-45-39-71-26-83-12-91 3-84 13-71 33-78 34-47 58-46 54-21 68-5 56 12 65 29 70 46 46 41 93 105 30 27 39 17 47 2 98-19 35-14 46-27 54-47 146-166 78-75 103-73 101-43 57-10 68 2 51 15 54 35 38 47 27 54 49 160 23 8 39-21 125-94 46-25 51-17 21-2 27 7 14 15 6 20 3 68 23 9 17-6 61-32 379-235-1102-1902-460 277-451 292-456 319-430 322-418 337-407 351-395 364-382 377-369 390-357 402-342 414-328 425-323 449-105 173-280 411-360 619-100 158-203 379-188 373-177 378-176 401zM15314 4718l-22-36-24-62-17-70-10-78 0-58 7-67 14-51 22-56 39-67 59-74 66-66 59-48 50-29 61-18 30 0 42 15 47 38 30 45 19 47 13 71 1 85-12 104-23 105-28 74-39 63-38 39-61 41-118 64-56 23-38 5-43-12zM15190 5881l-10-20-3-28 7-39 23-49 44-56 56-48 63-35 57-15 24 3 18 9 13 15 9 21 3 28-6 37-30 66-44 53-55 45-70 33-44 6-22-3zM13659 8262l-11-19 2-18 23-48 59-68 59-48 73-40 67-20 45 2 18 8 15 16 4 35-13 32-35 40-44 35-80 45-86 36-52 15-24 2zM13309 7030l-40-12-30-34-9-48 17-55 37-44 39-25 54-11 40 11 29 28 10 22 4 38-9 37-32 47-31 24-42 18z"/>
<path fill="#66ff90" d="M13478 9274l168-289 93-177 238-513 35-83 9-40-17-10-118 67-173 86-118 74-29 14-22-1-9-26 7-68 27-65 39-59 48-55 70-63 65-45 57-29 79-25 70-2 38 14 16 12 25 37 19 7 40-30 58-65 84-108 76-110 310-511 207-313 223-323 454-621 95-121 123-143 116-125 244-240 78-91 77-100 81-127 76-161 113-211 49-74 69-79 66-55 32-17 54-18 43-7 58 1 48 11 63 25 50-19 91-66 185-164 254-201 99-95 26-34 3-14-17-12-145-14-22-7-110-92-61-28-89-14-203 4-126-9-74-16-44-16-37-20-31-26-48-65-43-95-27-99-16-106-2-89 16-97 23-62 44-64 56-51 66-37 77-23 72 0 41 11 60 30 203 144 58 34 78 25 47 2 42-4 54-18 60-40 208-205 70-57 75-51 64-34 70-26 68-14 71-4 47 7 39 13 36 25 24 32 22 57 39 166 23 57 21 10 9-2 173-85 46-13 28 0 31 11 12 16 13 63 17 13 73-33 351-214-1094-1889-427 255-444 286-101 78-231 156-359 255-344 265-446 367-432 382-302 289-362 368-158 152-296 322-278 320-386 474-359 476-140 196-122 203-308 463-415 702-108 169-206 393-190 386-172 374-114 282zM15141 5878l-2-30 13-57 43-79 71-78 149-128 33-42 14-57 6-158-8-95-17-41-27-30-35-20-42-14-178-39-35-21-16-30-4-39 5-33 34-117 12-64 15-247 19-109 33-90 49-83 71-88 91-95 86-74 66-40 53-18 56 1 40 17 46 39 36 49 19 37 20 65 6 50-5 145-16 182-23 129-23 78-28 72-96 180-10 39-13 178-13 74-24 84-63 155-1 45 14 105-10 81-28 68-49 71-62 61-77 49-67 26-54 4-40-14-15-13zM13166 7197l-28-32-23-40-18-50-11-61 8-93 16-56 25-52 58-75 47-38 39-21 40-13 51-7 44 5 37 16 32 25 40 50 33 59 35 79 16 74-6 40-15 34-31 45-66 68-64 47-60 29-52 13-58-1-39-11zM14739 3955l5-35 12-22 40-42 21-13 36-9 23 5 15 13 7 22-10 42-21 34-29 26-39 16-29 0-24-16zM17185 1991l1-19 16-24 33-20 21-4 23 7 12 16-2 26-25 29-17 10-22 6-24-5zM13294 8839l12-39 24-47 67-90 15 16-25 53-66 98zM13701 6438l-7-28 13-17 23 1 7 26-4 16-12 8z"/>
<path fill="#90ff66" d="M12984 8968l-2-64-19-121 5-37 11-15 13-14 25-8 101-13 52-18 51-34 43-38 58-65 56-78 97-169 50-74 70-83 81-77 60-48 52-32 61-27 72-20 51-6 44 3 39 12 54 27 23-1 35-22 69-75 73-94 67-101 264-439 168-258 260-380 286-394 221-316 75-94 102-116 120-122 225-212 73-80 70-89 61-92 29-59 40-106 168-297 47-75 67-82 65-57 48-25 37-11 62-9 80 3 112 34 36-14 109-82 153-137 230-176 88-83 23-31 3-16-5-8-36-10-59 2-129 20-31 0-21-9-55-58-79-39-121-30-338-56-87-31-51-35-37-47-167-278-28-55-15-57-2-34 7-47 36-103 47-93 59-77 44-36 48-31 140-67 131-37 99-5 55 13 40 21 148 138 72 46 42 18 51 12 55 0 38-9 34-16 45-30 192-169 301-237 65-68 94-124 80-78 59-44 63-38 35-14 34-6 23 10 15 14 15 38 63 242 13 106-13 59-21 37-87 113-25 59-4 67 10 41 18 25 7 7 31 4 128-42 65-10 29 5 20 12 30 51 22 11 33-12 61-32 280-168-1081-1867-230 125-525 329-155 116-311 214-516 373-309 249-159 120-273 232-256 228-94 97-329 317-503 509-294 324-221 256-304 373-120 136-296 392-124 173-148 243-319 480-549 922-173 336-94 163-236 499-52 140-110 262 1485 626 10-35zM15102 5927l-6-46 3-42 32-88 48-74 127-148 42-80 30-91 16-80 0-49-12-46-39-47-36-20-42-13-97-10-163 6-75-5-101-36-108-18-45-17-34-22-29-27-36-50-20-38-21-75 1-49 10-51 17-51 41-91 34-46 20-8 22 10 101 128 63 49 40 11 26-2 41-13 33-21 40-40 29-49 22-56 49-170 36-83 40-66 58-75 181-192 130-111 37-24 56-27 38-9 52 6 38 18 58 56 46 67 25 58 10 46 3 53-22 303 3 110 10 105 22 91 22 36 55 58 7 21-1 26-20 30-22 18-76 34-45 30-37 38-39 60-28 70-22 75-59 228-45 213-35 84-58 86-60 62-71 54-81 46-70 27-59 10-45-7-33-23zM13100 7314l-57-63-48-78-37-90-16-75-3-68 12-81 27-73 38-66 57-78 68-70 66-49 163-100 106-111 65-48 80-37 72-20 31-2 33 5 36 18 29 28 20 29 33 90 15 120-11 219 6 61 27 74 89 149 6 46-14 33-30 24-21 8-137 27-60 22-72 43-139 106-56 29-48 16-111 20-91 0-60-16zM14692 4035l-10-48 8-44 27-55 38-44 48-36 60-23 39-2 22 5 17 12 12 16 6 23-6 58-24 58-46 63-47 35-62 22-35-2-20-8zM17112 2050l-13-40 13-55 23-35 43-39 54-25 44-5 37 8 34 24 17 38-5 49-20 39-41 42-51 27-50 9-53-11zM12583 7009l-8-27 6-52 30-90 25-53 54-81 39-31 20 5 9 25-5 60-17 58-24 53-41 66-37 45-30 25zM12837 6456l-17-11-9-22-2-36 13-59 17-35 28-36 35-18 20 6 12 18 5 30-4 37-12 39-17 35-24 31-17 14zM13450 9262l148-221 132-237 194-440 17-49 7-46-19-8-25 7-116 50-82 52-54 51-44 56-36 60-229 433-51 111-37 99z"/>
<path fill="#baff3c" d="M12159 8635l28-29 38-25 58-16 79 8 136 40 39 2 27-5 48-23 115-90 67-30 83-13 203-10 116-29 68-32 68-47 331-323 73-61 52-32 68-22 90-11 89 8 97 31 25-4 36-23 57-59 92-125 91-144 191-324 102-158 327-480 291-407 119-182 31-70-13-17-35 12-185 88-117 35-51 0-19-8-25-32-14-48-4-60 6-63 33-109 45-78 102-122 42-58 35-63 30-68 15-57 3-43-13-47-25-32-34-22-41-13-52-7-82 2-97 13-90 19-199 62-51 0-35-21-90-111-111-117-23-35-8-22-2-60 10-44 113-259 107-343 8-71-1-103 14-74 22-53 22-37 65-73 48-35 37-19 56-19 31-4 52 4 20 8 25 26 8 27-10 78-42 121-51 110-80 135-28 78-6 71 14 64 24 33 39 16 39-8 44-36 120-172 59-75 300-314 153-141 121-92 85-48 46-16 32-2 23 6 34 22 70 72 24 32 20 63 18 93 3 52-7 38-49 133-24 80-14 89 0 86 12 72 24 61 34 51 71 71 23 33 13 44-2 87-14 56-30 45-196 175-44 54-27 47-32 89-26 117-19 160-2 33 7 22 34-9 33-22 162-130 112-107 88-104 78-123 18-47 22-98 15-33 111-158 101-194 37-62 89-109 62-35 106-13 130 0 50 9 52 18 22-4 48-29 48-39 109-109 155-104 97-74 71-63 27-32 10-23-4-10-21-9-48 1-68 14-52 18-80 37-167 103-41 9-21-9-10-18 5-30 57-77 20-40-1-26-22-33-54-33-65-24-123-27-313-48-87-30-54-33-61-53-126-129-91-106-73-96-30-53-14-41-8-73 6-58 16-59 26-58 141-221 38-45 43-39 71-36 67-9 156 6 398-54 100 0 48 15 37 22 95 104 46 40 46 22 52 6 38-8 35-14 79-47 151-103 97-85 71-92 120-222 177-283 93-129 79-89 59-47 53-22 43-1 26 7-432-746-365 201-249 157-344 246-263 180-545 398-326 261-203 153-215 184-109 97-494 481-559 565-411 459-455 552-125 140-295 396-229 367-287 430-549 922-390 739-70 149-215 528 632 267zM12492 7131l-2-37 9-71 19-78 39-113 55-127 115-228 65-167 39-68 56-58 37-17 48-1 38 15 33 23 23 2 63-121 70-94 84-80 37-19 30-8 48 1 37 16 30 28 62 85 46 39 58 22 111 16 40 11 52 31 42 45 35 54 40 82 128 386 39 87 78 145 16 41 6 36-7 58-29 65-58 68-56 42-43 22-50 16-129 21-48 14-56 29-91 72-37 20-47 15-59 8-290 13-85-12-55-24-49-36-57-61-65-90-109-173-31-28-21-3-29 11-123 108-40 22-23 0-18-10-13-18zM17066 2108l-25-31-8-19-4-47 6-29 17-43 22-34 55-60 65-44 61-15 48 2 29 8 22 10 31 27 28 54 3 46-5 28-11 34-21 38-52 59-65 41-59 15-49-1-30-7zM14698 6468l-11-19 6-44 23-39 18-17 40-28 42-16 25-1 16 12-4 41-27 45-23 27-55 38-30 8zM18644 2822l121-20 64-2 28 6 62 33 31-2 49-19 91-48 163-97-299-517-43 58-21 47-11 52-7 109-17 58-48 56-151 125-46 64-9 30 5 44 13 15zM13425 9189l58-34 39-40 52-67 72-113 67-120 91-204 63-179 7-63-15-14-22-1-54 17-66 44-39 38-45 56-48 73-102 183-86 191-32 119 0 52 8 31 13 20 18 10z"/>
<path fill="#e4ff13" d="M12056 8570l54-80 52-57 65-49 55-23 48-10 158-10 139-33 66-10 257 1 70-8 78-23 268-108 109-65 114-101 90-112 37-61 22-49 6-54-23-39-50-34-92-41-97-31-84-14-67-2-188 10-84-12-57-22-51-32-152-139-66-46-58-18-118 22-31 0-37-14-29-30-12-21-19-70 4-86 29-119 58-169 59-148 76-161 52-83 92-174 58-79 47-41 103-50 54-35 76-67 155-154 57-40 58-22 63-12 78-7 72 3 39 14 15 14 46 107 26 33 96 73 57 57 169 247 77 100 60 54 38 16 44 0 36-19 24-27 17-32 11-36 6-84-25-196-2-92 7-40 15-35 22-29 106-80 69-39 80-30 317-95 112-47 62-42 40-36 46-54 29-46 22-51 10-59-4-30-19-35-32-25-40-14-47-6-54 1-127 21-120 43-105 56-175 111-78 35-174 12-212 63-59 12-50 0-21-5-16-12-9-21 0-34 11-48 21-61 37-76 184-269 147-251 63-123 36-112 28-164 101-313 41-104 58-88 84-83 87-52 57-21 257-61 9 19-88 209-59 171-33 123-3 62 11 18 26 1 53-28 66-51 167-154 304-312 75-86 228-286 39-69 22-61 22-91 29-172 29-84 43-70 113-154 98-109 61-48 84-51 118-57 103-38 45-6 27 4 110 48 83 12 42-4 59-17 34-18 29-26 8-21-2-15-11-17-105-72-44-42-17-37-1-49 25-77 55-91 82-88 79-57 53-20 46-8 66 4 23 8 37 24 26 30 20 35 13 39 6 45-8 79-24 66-66 118-27 68 8 43 60 81 55 59 32 26 41 20 26 6 51 1 40-8 52-21 46-32 39-41 22-34 68-166 35-61 145-177 79-121 50-98 78-201 31-59 51-65 104-88-267-461-381 215-136 83-703 485-546 399-560 444-152 128-147 134-473 455-573 579-424 473-442 537-203 237-123 165-355 552-275 413-539 905-394 758-271 641 522 220zM13963 7819l171 64 21 2 26-6 38-25 26-26 61-74 104-157 189-325 101-159 346-509 259-367 82-138 10-29-8-23-28 3-200 81-48 29-40 35-46 53-81 134-54 68-78 73-170 136-75 75-93 107-60 86-101 185-85 112-83 80-167 138-49 54-35 61-23 69-5 57 11 47 21 39 28 30zM15937 5455l86-61 76-70 68-77 60-84 40-87 8-66-3-66 9-40 90-81 54-68 44-81 48-130 19-74 6-60-8-47-15-41-37-75-47-66-44-41-57-29-48-9-30 1-37 7-36 14-57 45-22 29-18 39-10 38-2 47 19 77 33 51 102 96 14 42 0 29-22 129-7 115-19 30-128 94-65 59-57 66-45 77-19 53-18 78-4 51 3 56 6 23 12 17 24 4zM16459 3915l248 37 172 35 46-1 74-22 62-35 38-36 9-17 1-25-24-32-37-21-43-16-73-17-166-16-146-3-93 3-63 12-36 14-31 20-23 29-1 34 10 18 33 24zM13498 9076l27-16 39-40 54-72 66-109 39-76 46-112 32-99 10-57-6-33-16-13-22-1-27 10-34 24-45 45-88 127-81 154-50 130-12 52-2 41 8 32 15 16 19 6zM18715 2777l111-8 106 7 57-7 50-17 78-38 116-76-98-168-36 8-101 35-97 42-94 50-72 50-42 42-19 35 0 23 14 16zM16755 4294l45 14 53 5 79-3 80-14 33-15 26-22 16-35-3-36-17-37-24-33-60-53-63-25-60 5-35 14-46 28-38 36-21 30-13 38 0 39 17 39zM17263 4140l32-1 43-10 59-23 46-26 80-56 53-43 39-41 12-22-2-12-7-6-26-5-57 9-68 24-77 42-82 63-47 51-9 16-7 29z"/>
<path fill="#ffde00" d="M12011 8488l183-254 48-84 38-88 90-276 90-213 8-39-1-44-17-52-59-118-19-51-7-52 4-64 35-138 89-265 60-147 62-124 71-96 135-217 43-54 51-50 51-37 116-65 48-37 71-71 90-104 46-39 61-29 175-43 59-28 100-70 57-54 50-58 120-174 136-186 36-70 87-205 3-34-19-9-66 18-148 55-17-11 3-14 7-30 35-75 66-112 84-107 69-70 139-112 66-73 51-85 88-185 66-100 80-86 78-62 53-30 181-70 259-154 48-35 70-95 28-27 31-15 24 4 13 16 5 23-8 41-18 36-26 30-78 57-26 29-164 246-50 85-34 75-28 82-11 70 4 25 13 16 30 0 46-23 83-64 150-145 166-183 322-437 36-74 25-87 10-74 2-147 8-47 19-41 23-32 194-224 69-71 74-63 205-151 245-195 57-54 145-167 120-103 49-32 90-41 63-13 71-1 44 14 18 12 33 50 28 102 9 90-6 174 17 61 26 31 19 13 29 9 42-5 47-31 109-108 142-127 78-89 45-70 39-80 70-215 29-64 23-35 41-44 139-106-223-386-363 206-153 93-704 484-545 399-545 432-182 154-161 148-444 427-587 593-436 489-620 751-96 127-112 164-268 419-265 396-550 921-393 758-73 163-198 478 443 186zM12082 7889l-17-12 16-60 20-34 21-24 20 6-4 37-13 36-23 33zM14237 7813l49-51 71-97 305-515 432-638 149-212 55-104 1-33-19-9-24-2-59 7-55 23-55 45-41 57-49 114-38 58-74 74-171 135-97 102-103 141-121 212-57 88-55 68-135 143-43 56-33 61-22 68-10 75 8 65 14 28 27 30 51 33 41 8 28-9zM12891 8099l112-2 127 16 66 2 99-19 75-35 77-61 34-43 26-46 18-52 3-38-6-44-17-38-27-34-50-34-57-20-65-7-59 5-82 18-147 47-67 28-49 38-81 84-105 73-27 28-18 33 0 21 8 25 46 30 59 16zM14769 5600l91-11 129-33 83-35 63-42 50-51 38-61 13-60-6-28-15-25-34-23-43-11-51-2-60 7-66 16-73 28-57 30-63 43-57 48-48 56-28 48-9 35 5 26 28 29 41 13zM15999 5395l56-42 61-60 65-79 37-60 19-47 7-65-11-46-11-17-17-12-25-3-37 10-69 43-75 73-57 89-20 52-13 51-4 51 4 39 7 22 13 16 22 5zM13575 8959l33-36 51-77 61-123 35-114 0-46-12-21-21-3-28 13-45 42-71 100-62 125-31 100-3 38 10 29 17 10 24-5zM16856 4284l52-1 38-9 32-16 23-27 7-29-3-24-19-36-32-26-43-15-48 0-52 21-37 38-11 46 15 41 32 25zM16699 3888l114 23 94 0 38-9 33-16 13-14 3-21-15-21-39-19-48-12-65-7-70 1-65 8-38 10-30 20 0 16 14 14zM16336 4805l26-16 36-37 21-29 24-52 14-69-5-23-11-17-19-9-31 1-41 25-34 40-34 65-11 45 3 53 11 18 18 10zM18792 2729l110-3 72-15 77-41 14-13 16-33-9-18-21-11-31-4-44 2-64 16-65 27-58 39-18 20-2 25zM17348 4094l65-15 91-51 40-32 36-37 11-25-5-9-25-5-49 10-56 23-53 32-53 45-24 31-1 26z"/>
<path fill="#ffae00" d="M11920 8486l181-252 57-101 44-108 79-240 64-162 17-76 1-45-14-59-55-112-7-67 5-42 84-267 66-235 45-111 54-105 31-51 117-137 163-248 81-112 40-44 31-15 74-3 35-17 67-63 76-114 56-56 57-33 47-14 97-16 104-42 92-65 81-84 116-178 114-131 19-34 7-41-8-22-17-11-27 1-39 17-107 73-33 9-22-3-14-15-3-29 13-50 36-79 120-199 89-130 139-166 185-178 52-58 46-64 101-174 71-96 92-102 88-80 53-31 154-66 89-52 184-119 153-151 44-24 30 0 18 11 12 16 14 41-1 56-18 62-43 66-118 127-159 214-41 71-22 51-11 40-1 30 9 20 25 2 56-29 31-25 110-105 127-142 69-92 105-167 136-163 54-83 32-81 14-93-7-74-37-100-1-30 19-39 399-407 261-207 224-192 174-161 172-133 98-66 53-26 80-22 119-16 66 3 21 11 19 35 18 228 16 62 17 36 14 16 18 12 26 6 44-5 88-37 79-54 42-38 39-45 55-91 35-96 39-185 29-63 27-31 44-39 179-117-191-329-363 205-153 93-688 473-561 410-529 420-182 153-191 174-415 400-587 592-438 488-594 720-109 142-137 195-274 439-246 360-106 172-174 308-283 456-392 759-74 163-197 477 361 153zM12004 7959l10-66 12-37 30-73 28-51 25-37 44-43 28-12 19 7 11 21 4 63-19 77-34 70-60 79-48 37-25 6-17-11zM14272 7754l49-58 64-94 216-390 363-541 90-151 26-61 121-145 28-61-2-30-14-15-20-6-41 9-34 22-31 38-15 32-7 35 12 76-2 20-28 44-127 120-48 29-62 29-84 59-97 102-98 144-129 247-217 275-33 61-22 68-8 55 6 63 23 41 34 21 22 1 30-11zM13264 8023l65-23 48-36 32-44 15-53-4-54-23-43-31-27-57-20-70 4-65 28-31 25-25 29-17 32-10 36-1 41 8 35 11 22 25 27 22 14 39 11zM14894 5514l56-6 67-18 47-23 45-32 35-41 15-34 0-41-11-18-16-12-42-12-83 5-78 27-81 51-50 53-16 35-1 22 7 17 34 21zM16015 5363l57-41 49-48 42-54 34-57 18-59 1-33-14-43-15-13-23-6-34 7-51 30-61 61-47 75-24 72-5 52 3 26 7 22 14 15 23 4zM13584 8888l39-39 52-90 26-83-6-35-20-4-34 24-35 47-34 60-19 48-12 59 12 23zM16880 4252l22-2 33-14 19-31-5-31-12-16-40-18-32 2-27 11-13 11-14 25 2 26 11 17 16 12zM17410 4056l40-13 45-26 39-33 13-27-19-8-25 5-73 37-27 22-22 28 2 11zM16338 4716l18 13 23-21 9-39-23 0-13 11z"/>
<path fill="#ff7e00" d="M13045 5682l88-5 37-13 165-110 81-44 53-19 83-12 46-14 54-32 57-55 30-50 10-41-3-24-11-19-45-40-9-21 0-33 13-50 63-150 125-227 66-99 86-107 345-379 171-244 254-303 58-54 49-35 102-32 41-20 220-125 53-44 123-126 63-47 27-6 16 12 29 82 33 133 11 18 23 6 27-10 65-43 41-40 46-63 28-61 13-65-2-52-24-59-30-27-56-31-4-22 32-52 69-71 174-158 230-246 279-217 289-272 212-144 153-124 67-42 58-20 145-31 215-58 42-3 21 10 3 22-48 135-15 73 1 71 13 39 29 29 24 8 23 0 58-16 62-44 53-67 18-35 19-59 8-52-1-47-33-144 20-36 65-48 213-100 100-60-161-277-346 194-170 103-229 155-259 187-215 143-577 422-559 446-297 263-442 430-233 243-300 290-348 381-182 210-568 691-188 256-142 219-95 173-6 25zM11715 8531l66-164 48-72 73-65 64-36 0-10-18-8-10-25-3-42 6-62 18-72 37-112 45-108 142-258 9-39 10-128 99-237 36-115 13-98-3-55-10-24-19 13-40 51-113 177-162 319-178 332-119 252-202 497zM14277 7712l35-34 51-69 53-88 46-93 28-71 15-61-1-37-10-20-29 8-110 100-87 104-54 89-26 86-1 43 6 29 12 19 16 11 23 1zM16028 5330l59-40 36-37 50-79 14-43 1-31-5-23-11-17-20-9-36 6-58 41-43 55-24 48-15 68 1 28 8 21 15 13zM14551 7150l77-84 73-117 31-82 4-33-13-17-31 9-47 44-44 54-40 64-42 100-7 48 7 27zM12649 6292l51-62 65-100 54-106 13-40-22 16-99 143-87 151 1 18z"/>
<path fill="#ff4e00" d="M15085 3257l73-38 206-127 186-118 97-68 338-300 82-86 128-154 56-56 46-37 164-111 91-76 69-71 118-140 42-42 49-34 129-58 84-52 74-65 96-106 55-25 192-32 154-51 145-65 239-135 65-28 160-53 103-56-129-223-365 201-220 137-227 160-188 147-204 124-219 171-205 138-137 100-246 201-315 243-240 207-174 166-321 322-66 69-15 29zM13154 5593l74-25 113-72 124-104 66-73 73-117 199-416 69-122 61-77 395-441 152-208 178-213 54-84 17-48-18 4-63 52-78 75-388 425-142 165-261 326-320 379-198 274-137 221-22 50-1 19 17 10zM11586 8476l44-88 35-50 125-138 61-80 65-121 172-418 20-78 20-123 114-207 47-108 19-67 6-53-8-47-16-14-15 8-31 35-95 151-131 268-163 296-122 250-68 165-89 243-60 147zM15717 3243l35-19 28-26 28-43 15-41 5-36-6-43-24-32-19-10-28-2-22 5-35 20-39 45-17 38-7 55 18 65 12 16 18 10zM16040 5288l31-14 27-21 40-56 13-29 5-34-5-24-15-13-30 2-27 18-24 25-25 39-16 46-1 31 8 21zM14278 7631l33-13 34-40 40-76 10-28-1-37-18-9-38 24-12 14-32 42-23 46-7 22 0 39z"/>
<path fill="#ff1e00" d="M11690 8220l58-39 72-75 55-83 54-105 81-200 36-114 12-75-5-98 5-42 22-33 94-107 70-119 23-55 15-59 2-44-13-32-10-3-19 12-29 34-50 80-73 142-65 167-72 107-66 112-134 266-84 202-40 130-1 28 6 9 20 4zM15405 2987l98-36 105-60 110-83 165-140 87-80 80-89 166-232 48-35 146-71 80-57 51-48 45-55 31-54 7-30-23 5-17 10-133 89-104 84-137 122-269 195-219 181-253 237-105 117-15 28 6 7zM17389 1425l57-2 68-13 156-58 157-84 229-152 53-26 111-43 66-44-80-138-58 27-331 173-136 82-143 96-139 103-50 45-9 18 7 8zM13212 5525l81-38 82-63 98-99 83-109 72-118 77-164 46-130 23-108-10-4-37 30-164 177-138 170-139 194-94 146-45 89 0 19 7 7 20 6zM13911 4543l122-104 147-160 99-124 119-185 39-45 140-140 46-66 7-22-16 3-78 73-143 165-199 209-111 126-124 155-55 76-28 49 9 5zM16957 1698l36-13 48-33 32-36 7-17-4-9-43 17-79 57-24 29 8 7zM15722 3134l19-8 9-19 1-8-15-8-16 12-5 23z"/>
<path fill="#d60000" d="M13215 5472l26-2 33-12 76-52 101-97 86-107 73-118 51-109 22-68 8-42-1-32-10-19-10-3-23 12-84 85-110 132-107 143-103 155-45 81-9 19-1 20 6 8zM11699 8155l25-7 30-18 67-67 55-83 52-106 57-147 28-109 4-43-3-38-10-26-14-16-21-3-19 16-39 54-85 154-84 176-53 132-25 87 0 24 6 11zM15490 2908l76-28 89-54 140-109 119-104 81-87 58-81 28-62 3-29-6-7-23 6-62 38-101 75-152 127-147 133-92 92-47 56-9 22 5 9zM17464 1375l76-7 98-31 107-51 101-62 93-73 62-67 23-49 4-25-5-21-8-7-25 3-119 55-138 79-132 87-112 81-54 47-11 20 4 9zM12137 7252l53-62 46-87 19-72-3-32-7-11-11-1-18 12-26 34-41 68-43 90-16 43-3 27 7 9 11 1zM14040 4372l77-70 49-62 26-45-8-7-78 79-72 97zM16393 2107l22-4 35-20 41-40 11-20-7-8-50 31-55 51z"/>
<path fill="#9b0000" d="M13259 5414l25-5 39-20 66-52 69-71 73-93 62-102 32-74 16-68-3-29-12-18-11-1-21 10-61 60-89 107-105 144-72 111-33 62-4 23 6 9zM11742 8092l41-26 53-61 51-85 41-89 38-113 14-69-3-61-21-26-23 2-21 19-43 65-74 141-65 145-32 94-6 44 5 13 17 11zM15538 2843l56-14 60-34 97-69 106-89 70-69 44-54 29-51 9-33-2-11-9-6-23 6-69 45-208 172-107 101-61 68-11 24 4 10zM17537 1327l45-3 79-24 72-33 84-52 62-50 41-45 25-49-4-33-9-6-23 2-66 29-124 71-115 77-85 68-15 22 1 12 7 7zM12139 7186l11-2 23-21 22-37 14-38 2-18-5-11-15 6-38 61-18 44z"/>
<path fill="#800000" d="M13293 5345l26-1 17-8 49-33 68-66 61-77 47-77 27-65 6-45-7-23-8-6-12-1-23 13-44 45-111 140-99 157-9 29 4 12zM11751 8039l32-15 43-45 43-67 34-71 26-75 15-66 0-45-9-18-12-8-26 9-26 28-61 108-51 108-33 92-5 34 11 25zM15617 2768l31-10 53-29 125-97 56-56 30-38 15-31 1-23-11-4-33 15-165 134-91 88-24 35 1 13zM17589 1270l27 6 47-9 56-22 52-29 47-36 42-44 16-34-6-20-12-5-32 8-135 78-80 59-23 25-4 14z"/>
</g>
<path d="M1147.12,842.80 A1595.60,1595.60 0 0 1 1817.77,81.69 L1934.85,283.83 A1362.00,1362.00 0 0 0 1362.38,933.51 Z" fill="none" stroke="#000" stroke-width="3.00" stroke-linejoin="miter"/>
</g>
<g id="cbarb">
<rect x="2004.80" y="858.50" width="42.40" height="39.60" fill="#00009b"/>
<rect x="2004.80" y="819.50" width="42.40" height="39.60" fill="#0000d6"/>
<rect x="2004.80" y="780.51" width="42.40" height="39.60" fill="#0000ff"/>
<rect x="2004.80" y="741.51" width="42.40" height="39.60" fill="#0030ff"/>
<rect x="2004.80" y="702.51" width="42.40" height="39.60" fill="#0064ff"/>
<rect x="2004.80" y="663.52" width="42.40" height="39.60" fill="#0098ff"/>
<rect x="2004.80" y="624.52" width="42.40" height="39.60" fill="#00ccff"/>
<rect x="2004.80" y="585.52" width="42.40" height="39.60" fill="#16ffe1"/>
<rect x="2004.80" y="546.52" width="42.40" height="39.60" fill="#3cffba"/>
<rect x="2004.80" y="507.52" width="42.40" height="39.60" fill="#66ff90"/>
<rect x="2004.80" y="468.53" width="42.40" height="39.60" fill="#90ff66"/>
<rect x="2004.80" y="429.53" width="42.40" height="39.60" fill="#baff3c"/>
<rect x="2004.80" y="390.53" width="42.40" height="39.60" fill="#e4ff13"/>
<rect x="2004.80" y="351.54" width="42.40" height="39.60" fill="#ffde00"/>
<rect x="2004.80" y="312.54" width="42.40" height="39.60" fill="#ffae00"/>
<rect x="2004.80" y="273.54" width="42.40" height="39.60" fill="#ff7e00"/>
<rect x="2004.80" y="234.54" width="42.40" height="39.60" fill="#ff4e00"/>
<rect x="2004.80" y="195.55" width="42.40" height="39.60" fill="#ff1e00"/>
<rect x="2004.80" y="156.55" width="42.40" height="39.60" fill="#d60000"/>
<rect x="2004.80" y="117.55" width="42.40" height="39.60" fill="#9b0000"/>
<path d="M2004.80,118.15 L2026.00,79.05 L2047.20,118.15 Z" fill="#800000"/>
<path d="M2004.80,897.50 L2026.00,936.60 L2047.20,897.50 Z" fill="#000080"/>
<path d="M2004.80,117.85 L2026.00,79.05 L2047.20,117.85 L2047.20,897.80 L2026.00,936.60 L2004.80,897.80 Z" fill="none" stroke="#000" stroke-width="2.70" stroke-linejoin="miter"/>
<line x1="2047.20" y1="897.80" x2="2062.00" y2="897.80" stroke="#000" stroke-width="2.70"/>
<text class="tk" x="2067.00" y="906.95">0.980</text>
<line x1="2047.20" y1="819.80" x2="2062.00" y2="819.80" stroke="#000" stroke-width="2.70"/>
<text class="tk" x="2067.00" y="828.95">0.986</text>
<line x1="2047.20" y1="741.81" x2="2062.00" y2="741.81" stroke="#000" stroke-width="2.70"/>
<text class="tk" x="2067.00" y="750.96">0.992</text>
<line x1="2047.20" y1="663.82" x2="2062.00" y2="663.82" stroke="#000" stroke-width="2.70"/>
<text class="tk" x="2067.00" y="672.97">0.998</text>
<line x1="2047.20" y1="585.82" x2="2062.00" y2="585.82" stroke="#000" stroke-width="2.70"/>
<text class="tk" x="2067.00" y="594.97">1.004</text>
<line x1="2047.20" y1="507.82" x2="2062.00" y2="507.82" stroke="#000" stroke-width="2.70"/>
<text class="tk" x="2067.00" y="516.98">1.010</text>
<line x1="2047.20" y1="429.83" x2="2062.00" y2="429.83" stroke="#000" stroke-width="2.70"/>
<text class="tk" x="2067.00" y="438.98">1.016</text>
<line x1="2047.20" y1="351.84" x2="2062.00" y2="351.84" stroke="#000" stroke-width="2.70"/>
<text class="tk" x="2067.00" y="360.99">1.022</text>
<line x1="2047.20" y1="273.84" x2="2062.00" y2="273.84" stroke="#000" stroke-width="2.70"/>
<text class="tk" x="2067.00" y="282.99">1.028</text>
<line x1="2047.20" y1="195.85" x2="2062.00" y2="195.85" stroke="#000" stroke-width="2.70"/>
<text class="tk" x="2067.00" y="205.00">1.034</text>
<line x1="2047.20" y1="117.85" x2="2062.00" y2="117.85" stroke="#000" stroke-width="2.70"/>
<text class="tk" x="2067.00" y="127.00">1.040</text>
</g>
<g id="labelsb">
<text class="ti" transform="translate(1541.00,72.20) scale(0.958,1)" text-anchor="middle">CFD ADP: pt/pt_ref</text>
<text class="lb" transform="translate(1137.60,1018.00) scale(1.030,1)" text-anchor="start">b</text>
<text class="cap" x="1106.00" y="827.90" text-anchor="start">X</text>
<text class="cap" x="1310.40" y="481.70" text-anchor="start">Y</text>
<text class="cap" x="1543.60" y="239.30" text-anchor="start">Z</text>
<text class="lb" transform="translate(1760.60,263.50) scale(1.030,1)" text-anchor="start" letter-spacing="0.35">Strut</text>
<text class="lb" transform="translate(1579.30,388.30) scale(1.030,1)" text-anchor="start" letter-spacing="-0.20">Splitter1</text>
<text class="lb" transform="translate(1309.20,658.10) scale(1.030,1)" text-anchor="start">Splitter2</text>
<polyline class="an" points="1700,325 1744,265 1806,341"/>
<line class="an" x1="1566.00" y1="397.00" x2="1546.00" y2="448.00"/>
<line class="an" x1="1375.00" y1="665.00" x2="1335.00" y2="690.00"/>
</g>
</svg></body></html>
